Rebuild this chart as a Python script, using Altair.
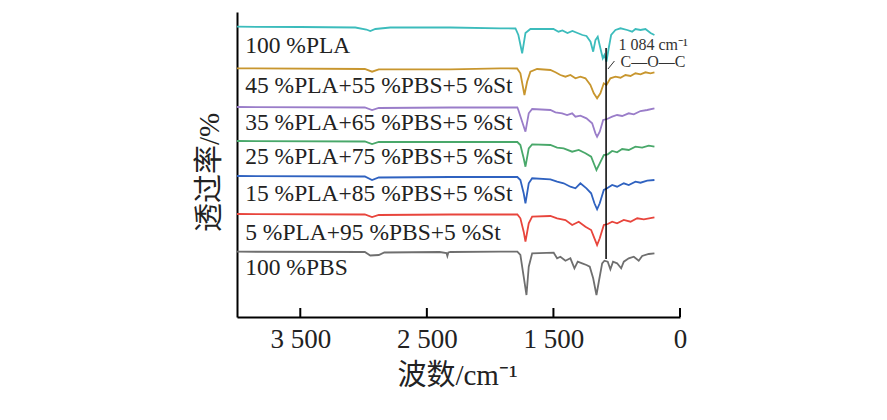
import altair as alt
import pandas as pd

# ---- spectra (wavenumber cm-1, stacked transmittance a.u.) ----
PLA_WN = [4000, 3500, 3065, 2978, 2947, 2907, 2789, 2314, 1919, 1800, 1777, 1747, 1721, 1682, 1500, 1460, 1429, 1389, 1350, 1310, 1271, 1239, 1207, 1186, 1168, 1150, 1129, 1110, 1097, 1081, 1063, 1044, 1010, 970, 917, 878, 852, 812, 773, 733, 702]
PLA_T = [290.3, 290, 289.5, 287.5, 286, 288, 289.5, 289.5, 288.7, 288.5, 282, 263.7, 284, 288, 288, 285.3, 286.5, 284, 286, 284, 282, 281, 275.3, 265.3, 277, 280.3, 268.7, 258.7, 262, 255.3, 269, 282, 287, 288.7, 287, 285.3, 288, 287, 288, 284, 282]

B45_WN = [4000, 2990, 2933, 2880, 2314, 1919, 1787, 1761, 1729, 1708, 1682, 1629, 1524, 1484, 1445, 1405, 1366, 1326, 1287, 1247, 1208, 1181, 1155, 1129, 1102, 1081, 1050, 1010, 970, 931, 891, 852, 812, 773, 733, 702]
B45_T = [248.7, 248, 245.3, 247.7, 247.7, 248.7, 248.5, 243.7, 222, 235.3, 245.3, 248, 247, 244.7, 242, 240.3, 242, 238.7, 240.3, 238.7, 232, 223.7, 218.7, 223.7, 233.7, 232, 238.7, 240.3, 239.3, 242, 241, 243.7, 242.7, 244.7, 243.7, 244.7]

B35_WN = [4000, 2990, 2933, 2880, 2314, 1919, 1785, 1777, 1747, 1721, 1695, 1668, 1524, 1484, 1431, 1392, 1352, 1326, 1287, 1239, 1194, 1168, 1155, 1134, 1107, 1076, 1036, 997, 957, 905, 865, 812, 759, 702]
B35_T = [210, 209.5, 207, 209, 209.5, 209.5, 209.5, 207, 195.3, 185.3, 203.7, 208, 207, 204.7, 203.7, 202, 203.7, 200.3, 201.3, 198.7, 193.7, 183.7, 180.3, 185.3, 197, 198, 200.3, 202, 201, 203.7, 202.7, 206, 207, 208.7]

B25_WN = [4000, 2990, 2933, 2880, 2314, 1919, 1785, 1761, 1735, 1721, 1695, 1668, 1524, 1471, 1419, 1352, 1300, 1247, 1202, 1176, 1160, 1134, 1102, 1071, 1036, 997, 957, 905, 852, 799, 747, 702]
B25_T = [176, 175.5, 173, 175, 175, 175, 175, 172, 158.7, 150.3, 168.7, 172.7, 172, 169.3, 168.7, 165.3, 167, 163.7, 160.3, 152, 147, 153.7, 162, 162.7, 166, 164.7, 168, 167, 170.3, 169.3, 171.3, 170.3]

B15_WN = [4000, 2990, 2933, 2880, 2314, 1919, 1785, 1761, 1735, 1721, 1695, 1668, 1524, 1471, 1419, 1366, 1326, 1287, 1239, 1202, 1176, 1155, 1134, 1102, 1076, 1036, 997, 944, 905, 852, 812, 759, 702]
B15_T = [141, 140.5, 137, 139.5, 140, 140, 140, 137, 123.7, 113.7, 133.7, 138.7, 137.7, 135.3, 133.7, 130.3, 128.7, 133.7, 128.7, 123.7, 113.7, 107.7, 113.7, 127, 128.7, 132, 130.3, 133.7, 132, 135.3, 134.3, 136.3, 137]

B5_WN = [4000, 2990, 2933, 2880, 2314, 1919, 1785, 1761, 1735, 1721, 1695, 1668, 1524, 1471, 1405, 1352, 1300, 1247, 1202, 1176, 1155, 1134, 1102, 1071, 1036, 997, 944, 891, 838, 786, 702]
B5_T = [103, 102.5, 100, 102, 102.5, 102.5, 102.5, 98.7, 85.3, 75.3, 93.7, 100.3, 101, 98.7, 97, 92, 95.3, 90.3, 87, 78.7, 72, 78.7, 92, 93, 95.3, 93.7, 97, 95.3, 98.7, 97.7, 99.7]

PBS_WN = [4000, 2990, 2947, 2880, 2836, 2400, 2345, 2338, 2330, 2314, 1919, 1785, 1761, 1735, 1713, 1695, 1668, 1498, 1471, 1445, 1405, 1366, 1334, 1308, 1273, 1239, 1213, 1186, 1160, 1139, 1115, 1097, 1071, 1050, 1029, 997, 965, 944, 905, 865, 826, 799, 747, 702]
PBS_T = [65.3, 65, 61.5, 62, 64.5, 65, 64, 61, 64.5, 65, 65.3, 65.3, 62, 40.3, 22, 50.3, 63.7, 64.3, 58.7, 60.3, 56.3, 58.7, 48.7, 55.3, 53.7, 52, 50.3, 38.7, 22, 37, 53.7, 56.3, 55.3, 47.7, 55.3, 53.7, 48.7, 55.3, 58.7, 60.3, 56.3, 61, 63, 63.7]

SERIES = ["100 %PLA", "45 %PLA+55 %PBS+5 %St", "35 %PLA+65 %PBS+5 %St",
          "25 %PLA+75 %PBS+5 %St", "15 %PLA+85 %PBS+5 %St", "5 %PLA+95 %PBS+5 %St", "100 %PBS"]
COLORS = ["#3cbcbc", "#c8962e", "#9a7dc9", "#49a86a", "#2f62c0", "#e8453c", "#6f6f6f"]
LABEL_T = [264, 224, 187, 153, 116, 77, 42]
LABEL_WN = 3935

TICK_VALUES = [3500, 2500, 1500, 500]
TICK_LABELS = ["3 500", "2 500", "1 500", "0"]

PEAK_WN = 1084
PEAK_RANGE = [58, 269]

FONT = "Liberation Serif, Noto Sans CJK SC"

spectra = [(PLA_WN, PLA_T), (B45_WN, B45_T), (B35_WN, B35_T), (B25_WN, B25_T),
           (B15_WN, B15_T), (B5_WN, B5_T), (PBS_WN, PBS_T)]
rows = []
for name, (wn, t) in zip(SERIES, spectra):
    for w, v in zip(wn, t):
        rows.append({"series": name, "wn": w, "T": v})
df = pd.DataFrame(rows)

xs = alt.Scale(domain=[4000, 500], nice=False, zero=False)
ys = alt.Scale(domain=[0, 305], nice=False, zero=False)

label_expr = " : ".join(
    f"datum.value == {v} ? '{l}'" for v, l in zip(TICK_VALUES[:-1], TICK_LABELS[:-1])
) + f" : '{TICK_LABELS[-1]}'"

lines = alt.Chart(df).mark_line(strokeWidth=1.8, clip=False).encode(
    x=alt.X("wn:Q", scale=xs,
            axis=alt.Axis(values=TICK_VALUES, labelExpr=label_expr, title="波数/cm⁻¹",
                          grid=False, ticks=False, domainColor="black", domainWidth=2,
                          labelFont=FONT, labelFontSize=27, labelColor="#222",
                          labelBaseline="alphabetic", labelPadding=30, labelFlush=False,
                          titleFont=FONT, titleFontSize=29, titleFontWeight="normal",
                          titleColor="#222", titleX=220, titleY=67, titleBaseline="alphabetic")),
    y=alt.Y("T:Q", scale=ys,
            axis=alt.Axis(labels=False, ticks=False, grid=False, domainColor="black",
                          domainWidth=2, title="透过率/%", titleFont=FONT, titleFontSize=29,
                          titleFontWeight="normal", titleColor="#222", titleAngle=-90,
                          titleX=-28, titleY=160, titleAlign="center", titleBaseline="middle")),
    color=alt.Color("series:N", scale=alt.Scale(domain=SERIES, range=COLORS), legend=None),
    detail="series:N",
)

lab_df = pd.DataFrame({"series": SERIES, "T": LABEL_T, "wn": [LABEL_WN] * len(SERIES)})
labels = alt.Chart(lab_df).mark_text(align="left", baseline="alphabetic", font=FONT,
                                     fontSize=23.5, color="#222").encode(
    x=alt.X("wn:Q", scale=xs), y=alt.Y("T:Q", scale=ys), text="series:N")

tick_df = pd.DataFrame({"wn": TICK_VALUES, "y0": [0] * 4, "y1": [9] * 4})
ticks = alt.Chart(tick_df).mark_rule(color="black", strokeWidth=2).encode(
    x=alt.X("wn:Q", scale=xs), y=alt.Y("y0:Q", scale=ys), y2="y1:Q")

peak_df = pd.DataFrame({"wn": [PEAK_WN], "y0": [PEAK_RANGE[0]], "y1": [PEAK_RANGE[1]]})
peak = alt.Chart(peak_df).mark_rule(color="black", strokeWidth=1.5).encode(
    x=alt.X("wn:Q", scale=xs), y=alt.Y("y0:Q", scale=ys), y2="y1:Q")

diag_df = pd.DataFrame({"wn": [1069], "wn2": [1018], "t": [248], "t2": [256]})
diag = alt.Chart(diag_df).mark_rule(color="#333", strokeWidth=1).encode(
    x=alt.X("wn:Q", scale=xs), x2="wn2:Q", y=alt.Y("t:Q", scale=ys), y2="t2:Q")

ann_df = pd.DataFrame({"wn": [986, 970], "T": [267, 250], "txt": ["1 084 cm⁻¹", "C—O—C"]})
ann = alt.Chart(ann_df).mark_text(align="left", baseline="alphabetic", font=FONT,
                                  fontSize=16, color="#333").encode(
    x=alt.X("wn:Q", scale=xs), y=alt.Y("T:Q", scale=ys), text="txt:N")

chart = alt.layer(lines, labels, ticks, peak, diag, ann).properties(
    width=443, height=305,
    padding={"left": 229, "top": 4, "right": 199, "bottom": 95},
    autosize=alt.AutoSizeParams(type="none"),
).configure_view(stroke=None)

chart.save("out.html", embed_options={"renderer": "svg", "actions": False})
